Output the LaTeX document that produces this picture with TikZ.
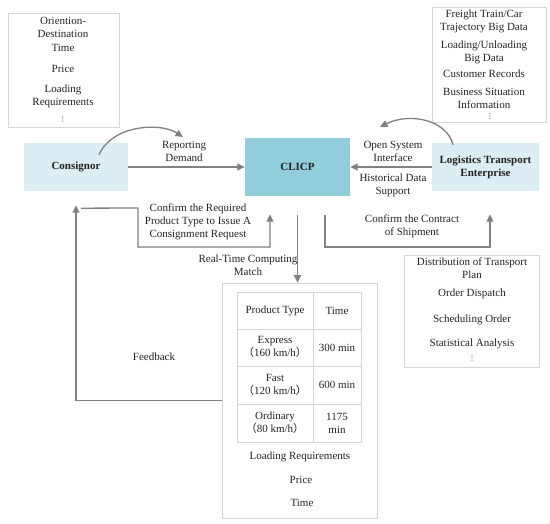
\documentclass[tikz,border=0pt]{standalone}
\usepackage{fontspec}
\setmainfont{Liberation Serif}
\newfontfamily\cjk{Noto Sans CJK SC}
\newfontfamily\dejavu{DejaVu Sans}
\usetikzlibrary{arrows.meta,calc}
\definecolor{lightblue}{HTML}{DAEEF3}
\definecolor{midblue}{HTML}{92CDDC}
\definecolor{arrowgray}{HTML}{808080}
\definecolor{boxgray}{HTML}{D4D4D4}
\definecolor{txtcol}{HTML}{222222}
\begin{document}
\begin{tikzpicture}[x=1pt,y=-1pt,
  txt/.style={font=\fontsize{11}{13}\selectfont, text=txtcol, inner sep=0pt, align=center},
  infobox/.style={draw=boxgray, line width=0.7pt, inner sep=0pt},
  actor/.style={font=\fontsize{11}{13}\selectfont\bfseries, text=txtcol, align=center, inner sep=0pt},
  conn/.style={draw=arrowgray, line width=1.3pt, -{Triangle[length=7.5pt,width=7pt]}},
  dots/.style={font=\dejavu\fontsize{7}{7}\selectfont, text=txtcol, inner sep=0pt}
]
\useasboundingbox (0,0) rectangle (550,524);

% main actors
\node[actor, fill=lightblue, minimum width=104pt, minimum height=48pt] (consignor) at (76,167) {Consignor};
\node[actor, fill=midblue, minimum width=105pt, minimum height=58pt] (clicp) at (297.5,167) {CLICP};
\node[actor, fill=lightblue, minimum width=107pt, minimum height=48pt] (logistics) at (485.5,167) {Logistics Transport\\Enterprise};

% top-left info box
\node[infobox, minimum width=111pt, minimum height=114pt] (tlbox) at (63.5,70) {};
\node[txt] (tl1) at (63,27.5) {Oriention-\\Destination};
\node[txt] (tl2) at (63,48) {Time};
\node[txt] (tl3) at (63,69) {Price};
\node[txt] (tl4) at (63,96.5) {Loading\\Requirements};
\node[dots] (tl5) at (63,119) {⋮};

% top-right info box
\node[infobox, minimum width=114pt, minimum height=115pt] (trbox) at (489,64.5) {};
\node[txt] (tr1) at (484,21) {Freight Train/Car\\Trajectory Big Data};
\node[txt] (tr2) at (484,52) {Loading/Unloading\\Big Data};
\node[txt] (tr3) at (484,74) {Customer Records};
\node[txt] (tr4) at (484,98.5) {Business Situation\\Information};
\node[dots] (tr5) at (490,116.5) {⋮};

% bottom-right info box
\node[infobox, minimum width=135pt, minimum height=112pt] (brbox) at (471.5,311) {};
\node[txt] (br1) at (472,268.5) {Distribution of Transport\\Plan};
\node[txt] (br2) at (472,294) {Order Dispatch};
\node[txt] (br3) at (472,320) {Scheduling Order};
\node[txt] (br4) at (472,343.5) {Statistical Analysis};
\node[dots] (br5) at (472,358) {⋮};

% table box
\node[infobox, minimum width=155pt, minimum height=235pt] (tbl) at (299.5,400.5) {};
\draw[draw=boxgray, line width=0.7pt] (237,292) rectangle (361,442);
\draw[draw=boxgray, line width=0.7pt] (313,292) -- (313,442)
  (237,329) -- (361,329) (237,366) -- (361,366) (237,404) -- (361,404);
\node[txt] (c11) at (275,311) {Product Type};
\node[txt] (c12) at (337,311) {Time};
\node[txt] (c21) at (275,347) {Express\\{\cjk （}160 km/h{\cjk ）}};
\node[txt] (c22) at (337,348) {300 min};
\node[txt] (c31) at (275,385) {Fast\\{\cjk （}120 km/h{\cjk ）}};
\node[txt] (c32) at (337,385) {600 min};
\node[txt] (c41) at (275,423) {Ordinary\\{\cjk （}80 km/h{\cjk ）}};
\node[txt] (c42) at (337,423) {1175\\min};
\node[txt] (t1) at (300,457) {Loading Requirements};
\node[txt] (t2) at (301,480) {Price};
\node[txt] (t3) at (302,503) {Time};

% labels
\node[txt] (lRep) at (184,151.5) {Reporting\\Demand};
\node[txt] (lOpen) at (393,151.5) {Open System\\Interface};
\node[txt] (lHist) at (393,185) {Historical Data\\Support};
\node[txt] (lConf) at (198,221.5) {Confirm the Required\\Product Type to Issue A\\Consignment Request};
\node[txt] (lCont) at (412,226.5) {Confirm the Contract\\of Shipment};
\node[txt] (lRT) at (248,265.5) {Real-Time Computing\\Match};
\node[txt] (lFb) at (154,357) {Feedback};

% connector endpoints
\coordinate (crStart) at ($(consignor.south)+(5,17)$);
\coordinate (crEnd) at ($(clicp.south)+(-27.5,18)$);
\coordinate (ctStart) at ($(clicp.south)+(27.5,19)$);
\coordinate (ctEnd) at ($(logistics.south)+(4.5,23)$);
\coordinate (rtStart) at ($(clicp.south)+(0,19)$);
\coordinate (fbEnd) at ($(consignor.south)+(0,14)$);
\coordinate (cvA) at ($(consignor.north)+(23,12)$);
\coordinate (cvB) at (183,137);
\coordinate (cvC) at ($(logistics.north)+(-32.5,2)$);
\coordinate (cvD) at (380,127);

% connectors
\draw[conn] (consignor) -- (clicp);
\draw[conn] (logistics) -- (clicp);
\draw[conn] (cvA) .. controls (112,125) and (160,122) .. (cvB);
\draw[conn] (cvC) .. controls (447,120) and (410,112) .. (cvD);
\draw[conn] (crStart) -- (138,208) -- (138,247) -- (crEnd |- 0,247) -- (crEnd);
\draw[conn] (ctStart) -- (ctStart |- 0,247) -- (ctEnd |- 0,247) -- (ctEnd);
\draw[conn] (rtStart) -- (tbl.north -| rtStart);
\draw[conn] (tbl.west) -| (fbEnd);
\end{tikzpicture}
\end{document}
